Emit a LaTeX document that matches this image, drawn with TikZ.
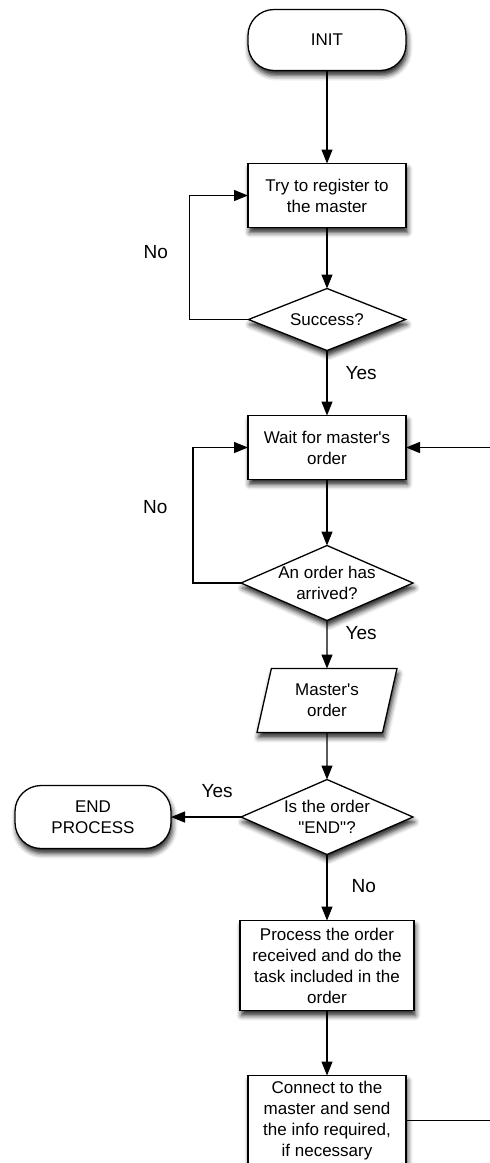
\documentclass[tikz,border=0pt]{standalone}
\usepackage{fontspec}
\setmainfont{Liberation Sans}[Ligatures=TeXOff]
\usetikzlibrary{positioning,arrows.meta,shapes.geometric,shadows.blur}

\tikzset{
  boxfont/.style={font=\fontsize{17}{21}\selectfont},
  shade under/.style={blur shadow={shadow xshift=1.5pt, shadow yshift=-5pt,
      shadow blur radius=5pt, shadow opacity=85}},
  terminal/.style={draw, fill=white, rounded corners=26pt, align=center,
      outer sep=0pt, minimum width=158pt, minimum height=61pt, shade under},
  process/.style={draw, fill=white, align=center, inner sep=2pt, outer sep=0pt,
      minimum width=158pt, minimum height=64pt, shade under},
  decision/.style={diamond, draw, fill=white, align=center, outer sep=0pt,
      inner xsep=-40pt, inner ysep=-12pt, aspect=2.3,
      minimum width=157pt, minimum height=62pt, shade under},
  io/.style={trapezium, trapezium left angle=70, trapezium right angle=110,
      trapezium stretches body, draw, fill=white, align=center, outer sep=0pt,
      minimum width=140pt, minimum height=64pt, shade under},
  answer/.style={font=\fontsize{19}{23}\selectfont, inner sep=0pt}
}

\begin{document}
\begin{tikzpicture}[>={Triangle[length=14pt,width=11pt]}, line width=1.3pt,
   every node/.style={boxfont}]
  \useasboundingbox (0,0) rectangle (490pt,-1163pt);

  % main column
  \node[terminal] (init) at (327pt,-40pt) {INIT};
  \node[process] (register) [below=93pt of init] {Try to register to\\the master};
  \node[decision] (success) [below=61pt of register] {Success?};
  \node[process] (wait) [below=65pt of success] {Wait for master's\\order};
  \node[decision, minimum width=172pt, minimum height=75pt] (arrived)
     [below=66pt of wait] {An order has\\arrived?};
  \node[io] (order) [below=48pt of arrived] {Master's\\order};
  \node[decision, minimum width=172pt, minimum height=75pt] (isend)
     [below=47pt of order] {Is the order\\"END"?};
  \node[terminal, minimum width=156pt, minimum height=63pt] (endproc)
     [left=70pt of isend] {END\\PROCESS};
  \node[process, minimum width=174pt, minimum height=90pt] (task)
     [below=66pt of isend] {Process the order\\received and do the\\task included in the\\order};
  \node[process, minimum height=90pt] (send) [below=65pt of task]
     {Connect to the\\master and send\\the info required,\\if necessary};

  % connectors
  \draw[->] (init) -- (register);
  \draw[->] (register) -- (success);
  \draw[->] (success.west) -- ++(-59pt,0)
     |- node[answer, pos=.27, left=21pt] {No} (register.west);
  \draw[->] (success) -- node[answer, pos=.34, right=18pt] {Yes} (wait);
  \draw[->] (wait) -- (arrived);
  \draw[->] (arrived.west) -- ++(-48pt,0)
     |- node[answer, pos=.28, left=25pt] {No} (wait.west);
  \draw[->] (arrived) -- node[answer, pos=.27, right=18pt] {Yes} (order);
  \draw[->] (order) -- (isend);
  \draw[->] (isend) -- node[answer, pos=.34, above=19pt] {Yes} (endproc);
  \draw[->] (isend) -- node[answer, pos=.48, right=24pt] {No} (task);
  \draw[->] (task) -- (send);
  \draw[->] (send.east) -- ++(100pt,0) |- (wait.east);
\end{tikzpicture}
\end{document}
